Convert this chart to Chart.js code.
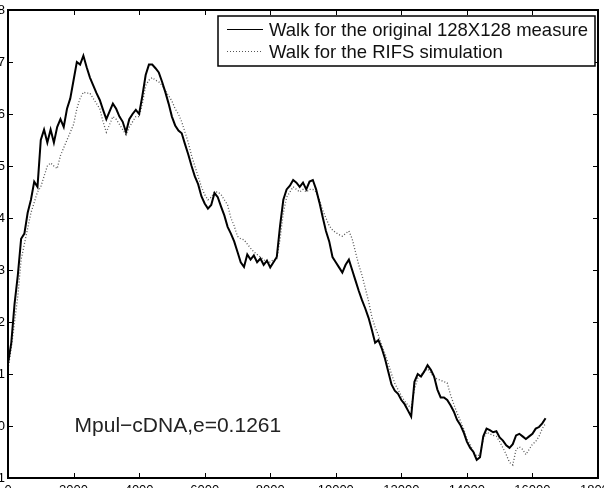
<!DOCTYPE html>
<html>
<head>
<meta charset="utf-8">
<script src="https://cdn.jsdelivr.net/npm/chart.js@4.4.1/dist/chart.umd.min.js"></script>
<style>
  html, body { margin: 0; padding: 0; background: #fff; overflow: hidden; width: 604px; height: 488px; }
  #wrap { position: absolute; left: -40px; top: 0; width: 660px; height: 510px; }
</style>
</head>
<body>
<div id="wrap"><canvas id="c" width="660" height="510"></canvas></div>
<script>
// ---- data ----
const walkStep = 100; // x spacing of the sampled values
const xTickValues = [0, 2000, 4000, 6000, 8000, 10000, 12000, 14000, 16000, 18000];
const yTickValues = [-1, 0, 1, 2, 3, 4, 5, 6, 7, 8];
const seriesLabels = ["Walk for the original 128X128 measure", "Walk for the RIFS simulation"];
const annotationText = "Mpul\u2212cDNA,e=0.1261";

const originalWalk = [
  1.2,1.6,2.35,2.9,3.6,3.7,4.1,4.35,4.7,4.6,
  5.5,5.7,5.45,5.7,5.45,5.75,5.9,5.75,6.1,6.3,
  6.65,7.0,6.95,7.12,6.9,6.7,6.55,6.4,6.27,6.08,
  5.9,6.05,6.2,6.1,5.95,5.85,5.65,5.9,6.0,6.08,
  6.0,6.35,6.75,6.95,6.95,6.88,6.8,6.62,6.42,6.2,
  5.95,5.78,5.68,5.63,5.42,5.22,5.0,4.8,4.65,4.42,
  4.28,4.18,4.25,4.48,4.4,4.22,4.05,3.83,3.7,3.55,
  3.35,3.15,3.06,3.3,3.2,3.28,3.15,3.22,3.1,3.18,
  3.05,3.15,3.25,3.85,4.35,4.55,4.62,4.73,4.68,4.6,
  4.68,4.55,4.7,4.73,4.55,4.3,4.02,3.75,3.55,3.25,
  3.15,3.05,2.95,3.1,3.2,3.0,2.8,2.6,2.42,2.26,
  2.08,1.85,1.6,1.65,1.5,1.3,1.05,0.8,0.68,0.62,
  0.5,0.42,0.3,0.18,0.85,1.0,0.95,1.05,1.17,1.08,
  0.95,0.7,0.55,0.55,0.5,0.4,0.28,0.12,0.02,-0.12,
  -0.3,-0.42,-0.5,-0.65,-0.6,-0.2,-0.05,-0.08,-0.12,-0.1,
  -0.22,-0.28,-0.37,-0.42,-0.35,-0.18,-0.15,-0.2,-0.25,-0.2,
  -0.15,-0.05,-0.02,0.05,0.15
];
const rifsWalk = [
  1.1,1.5,2.0,2.5,3.2,3.5,3.8,4.1,4.3,4.5,
  4.6,4.8,5.0,5.06,5.0,4.95,5.2,5.35,5.5,5.65,
  5.8,6.1,6.3,6.42,6.4,6.4,6.3,6.2,6.1,5.85,
  5.65,5.8,5.95,5.9,5.8,5.7,5.6,5.75,5.85,5.95,
  5.95,6.2,6.55,6.65,6.7,6.65,6.62,6.55,6.45,6.35,
  6.25,6.1,6.0,5.85,5.65,5.45,5.2,5.0,4.8,4.6,
  4.45,4.35,4.4,4.5,4.5,4.45,4.35,4.25,4.0,3.85,
  3.65,3.6,3.58,3.5,3.42,3.35,3.3,3.25,3.2,3.15,
  3.15,3.2,3.2,3.6,4.1,4.4,4.5,4.6,4.55,4.5,
  4.55,4.5,4.55,4.55,4.5,4.35,4.15,4.0,3.85,3.77,
  3.72,3.68,3.65,3.7,3.75,3.6,3.35,3.1,2.9,2.65,
  2.4,2.1,1.9,1.75,1.55,1.4,1.2,1.0,0.82,0.7,
  0.58,0.48,0.4,0.35,0.7,0.92,0.98,1.05,1.1,1.02,
  0.94,0.9,0.88,0.85,0.83,0.6,0.42,0.25,0.1,-0.05,
  -0.25,-0.35,-0.5,-0.58,-0.55,-0.25,-0.12,-0.15,-0.18,-0.2,
  -0.3,-0.42,-0.55,-0.7,-0.75,-0.45,-0.4,-0.45,-0.55,-0.45,
  -0.35,-0.3,-0.2,-0.05,0.05
];

const toPoints = arr => arr.map((v, i) => ({ x: i * walkStep, y: v }));

const FONT = "'Liberation Sans', Arial, Helvetica, sans-serif";

const framePlugin = {
  id: 'frame',
  afterDraw(chart) {
    const { ctx, chartArea: a, scales: { x, y } } = chart;
    ctx.save();
    ctx.strokeStyle = '#000';
    ctx.lineWidth = 1;
    ctx.beginPath();
    const tl = 5;
    xTickValues.forEach(v => {
      const p = Math.round(x.getPixelForValue(v)) + 0.5;
      ctx.moveTo(p, a.bottom); ctx.lineTo(p, a.bottom - tl);
      ctx.moveTo(p, a.top); ctx.lineTo(p, a.top + tl);
    });
    yTickValues.forEach(v => {
      const p = Math.round(y.getPixelForValue(v)) + 0.5;
      ctx.moveTo(a.left, p); ctx.lineTo(a.left + tl, p);
      ctx.moveTo(a.right, p); ctx.lineTo(a.right - tl, p);
    });
    ctx.stroke();
    ctx.lineWidth = 2;
    ctx.strokeRect(a.left, a.top, a.right - a.left, a.bottom - a.top);

    // legend box
    const lx = 258, ly = 16, lw = 377, lh = 50;
    ctx.fillStyle = '#fff';
    ctx.fillRect(lx, ly, lw, lh);
    ctx.lineWidth = 1.5;
    ctx.strokeRect(lx, ly, lw, lh);
    const ds = chart.data.datasets;
    const rows = [29.5, 51.5];
    rows.forEach((ry, i) => {
      ctx.beginPath();
      ctx.strokeStyle = ds[i].borderColor;
      ctx.lineWidth = i === 0 ? 1.2 : 1;
      ctx.setLineDash(ds[i].borderDash || []);
      ctx.moveTo(267, ry); ctx.lineTo(303, ry);
      ctx.stroke();
      ctx.setLineDash([]);
      ctx.fillStyle = '#111';
      ctx.font = "18.5px " + FONT;
      ctx.textBaseline = 'middle';
      ctx.textAlign = 'left';
      ctx.fillText(ds[i].label, 309, ry + 1);
    });

    // annotation
    ctx.fillStyle = '#222';
    ctx.font = "21px " + FONT;
    ctx.textBaseline = 'middle';
    ctx.fillText(annotationText, x.getPixelForValue(2030), y.getPixelForValue(0));
    ctx.restore();
  }
};

new Chart(document.getElementById('c'), {
  type: 'line',
  data: {
    datasets: [
      { label: seriesLabels[0], data: toPoints(originalWalk), borderColor: '#000', borderWidth: 2, pointRadius: 0, tension: 0, fill: false },
      { label: seriesLabels[1], data: toPoints(rifsWalk), borderColor: '#555', borderWidth: 1.3, borderDash: [1, 2], pointRadius: 0, tension: 0, fill: false }
    ]
  },
  options: {
    responsive: false,
    animation: false,
    events: [],
    layout: { padding: { left: 0, right: 22, top: 10, bottom: 0 } },
    plugins: { legend: { display: false }, tooltip: { enabled: false } },
    scales: {
      x: {
        type: 'linear', min: 0, max: 18000,
        grid: { display: false, drawTicks: false },
        border: { display: false },
        ticks: { stepSize: 2000, autoSkip: false, maxRotation: 0, padding: 5, color: '#000', font: { family: FONT, size: 13 },
                 callback: v => String(v) },
        afterFit(s) { s.height = 32; s.paddingLeft = 0; s.paddingRight = 0; }
      },
      y: {
        min: -1, max: 8,
        grid: { display: false, drawTicks: false },
        border: { display: false },
        ticks: { stepSize: 1, padding: 3, color: '#000', font: { family: FONT, size: 13 }, callback: v => String(v) },
        afterFit(s) { s.width = 48; s.paddingTop = 0; s.paddingBottom = 0; }
      }
    }
  },
  plugins: [framePlugin]
});
</script>
</body>
</html>
